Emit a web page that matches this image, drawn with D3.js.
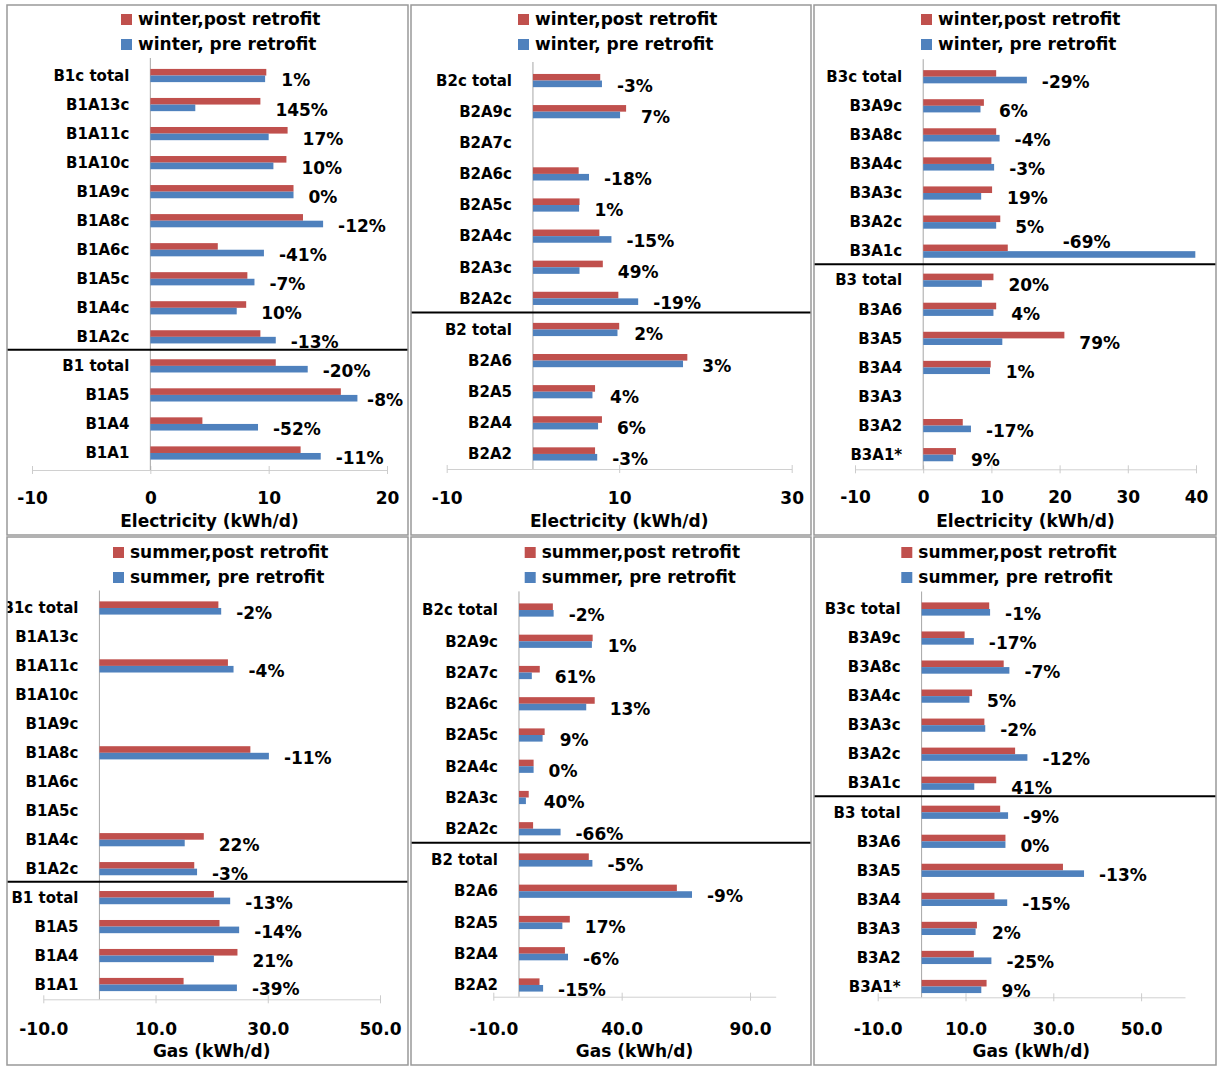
<!DOCTYPE html>
<html>
<head>
<meta charset="utf-8">
<script src="https://cdn.jsdelivr.net/npm/d3@7"></script>
<style>
  body { margin: 0; background: #fff; }
  text { font-family: "DejaVu Sans", sans-serif; font-weight: bold; fill: #000; }
</style>
</head>
<body>
<svg id="chart" width="1217" height="1066"></svg>
<script>
// categories per building
const b1Cats = ["B1c total", "B1A13c", "B1A11c", "B1A10c", "B1A9c", "B1A8c", "B1A6c", "B1A5c", "B1A4c", "B1A2c", "B1 total", "B1A5", "B1A4", "B1A1"];
const b2Cats = ["B2c total", "B2A9c", "B2A7c", "B2A6c", "B2A5c", "B2A4c", "B2A3c", "B2A2c", "B2 total", "B2A6", "B2A5", "B2A4", "B2A2"];
const b3Cats = ["B3c total", "B3A9c", "B3A8c", "B3A4c", "B3A3c", "B3A2c", "B3A1c", "B3 total", "B3A6", "B3A5", "B3A4", "B3A3", "B3A2", "B3A1*"];

// winter electricity (kWh/d)
const b1ElecPost = [9.8, 9.3, 11.6, 11.5, 12.1, 12.9, 5.7, 8.2, 8.1, 9.3, 10.6, 16.1, 4.4, 12.7];
const b1ElecPre  = [9.7, 3.8, 10.0, 10.4, 12.1, 14.6, 9.6, 8.8, 7.3, 10.6, 13.3, 17.5, 9.1, 14.4];
const b1ElecPct  = ["1%", "145%", "17%", "10%", "0%", "-12%", "-41%", "-7%", "10%", "-13%", "-20%", "-8%", "-52%", "-11%"];

const b2ElecPost = [7.8, 10.8, null, 5.3, 5.4, 7.7, 8.1, 9.9, 10.0, 17.9, 7.2, 8.0, 7.2];
const b2ElecPre  = [8.0, 10.1, null, 6.5, 5.35, 9.1, 5.4, 12.2, 9.8, 17.4, 6.9, 7.55, 7.45];
const b2ElecPct  = ["-3%", "7%", null, "-18%", "1%", "-15%", "49%", "-19%", "2%", "3%", "4%", "6%", "-3%"];

const b3ElecPost = [10.7, 8.9, 10.7, 10.0, 10.1, 11.3, 12.4, 10.3, 10.7, 20.7, 9.9, null, 5.8, 4.8];
const b3ElecPre  = [15.2, 8.4, 11.2, 10.4, 8.5, 10.7, 39.9, 8.6, 10.3, 11.6, 9.8, null, 7.0, 4.4];
const b3ElecPct  = ["-29%", "6%", "-4%", "-3%", "19%", "5%", "-69%", "20%", "4%", "79%", "1%", null, "-17%", "9%"];

// summer gas (kWh/d)
const b1GasPost = [21.2, null, 22.9, null, null, 26.9, null, null, 18.6, 16.9, 20.4, 21.4, 24.6, 15.0];
const b1GasPre  = [21.7, null, 23.9, null, null, 30.2, null, null, 15.2, 17.4, 23.3, 24.9, 20.4, 24.5];
const b1GasPct  = ["-2%", null, "-4%", null, null, "-11%", null, null, "22%", "-3%", "-13%", "-14%", "21%", "-39%"];

const b2GasPost = [13.2, 28.7, 8.1, 29.5, 10.0, 5.7, 3.8, 5.5, 27.2, 61.5, 19.8, 17.9, 8.0];
const b2GasPre  = [13.5, 28.4, 5.0, 26.2, 9.2, 5.7, 2.7, 16.2, 28.6, 67.4, 16.9, 19.1, 9.4];
const b2GasPct  = ["-2%", "1%", "61%", "13%", "9%", "0%", "40%", "-66%", "-5%", "-9%", "17%", "-6%", "-15%"];

const b3GasPost = [15.4, 9.8, 18.7, 11.5, 14.3, 21.3, 17.0, 17.9, 19.1, 32.2, 16.6, 12.6, 11.9, 14.8];
const b3GasPre  = [15.6, 11.9, 20.0, 10.9, 14.5, 24.1, 12.0, 19.7, 19.1, 37.0, 19.5, 12.3, 15.9, 13.6];
const b3GasPct  = ["-1%", "-17%", "-7%", "5%", "-2%", "-12%", "41%", "-9%", "0%", "-13%", "-15%", "2%", "-25%", "9%"];

// tick values
const b1ElecTicks = [-10, 0, 10, 20];
const b2ElecTicks = [-10, 10, 30];
const b3ElecTicks = [-10, 0, 10, 20, 30, 40];
const b1GasTicks = [-10, 10, 30, 50];
const b2GasTicks = [-10, 40, 90];
const b3GasTicks = [-10, 10, 30, 50];

const winterLegend = ["winter,post retrofit", "winter, pre retrofit"];
const summerLegend = ["summer,post retrofit", "summer, pre retrofit"];

const red = "#C0504D";
const blue = "#4F81BD";
const barH = 6.6;

const intFmt = d => d.toFixed(0);
const decFmt = d => d.toFixed(1);

const panels = [
    { cats: b1Cats, post: b1ElecPost, pre: b1ElecPre, pct: b1ElecPct, ticks: b1ElecTicks, legend: winterLegend,
      title: "Electricity (kWh/d)", domain: [-10, 20], fmt: intFmt, split: 10,
      box: [7, 5, 401, 530], xr: [32, 387], yr: [61, 467.5], axisY: 470, legX: 138, top: true },
    { cats: b2Cats, post: b2ElecPost, pre: b2ElecPre, pct: b2ElecPct, ticks: b2ElecTicks, legend: winterLegend,
      title: "Electricity (kWh/d)", domain: [-10, 30], fmt: intFmt, split: 8,
      box: [411, 5, 400, 530], xr: [446.7, 791.7], yr: [65, 469.5], axisY: 469, legX: 535, top: true },
    { cats: b3Cats, post: b3ElecPost, pre: b3ElecPre, pct: b3ElecPct, ticks: b3ElecTicks, legend: winterLegend,
      title: "Electricity (kWh/d)", domain: [-10, 40], fmt: intFmt, split: 7,
      box: [814, 5, 402, 530], xr: [855, 1196], yr: [62.2, 469.2], axisY: 469.3, legX: 938, top: true },
    { cats: b1Cats, post: b1GasPost, pre: b1GasPre, pct: b1GasPct, ticks: b1GasTicks, legend: summerLegend,
      title: "Gas (kWh/d)", domain: [-10, 50], fmt: decFmt, split: 10,
      box: [7, 537, 401, 528], xr: [43.3, 380], yr: [593.5, 999], axisY: 999.3, legX: 130, top: false },
    { cats: b2Cats, post: b2GasPost, pre: b2GasPre, pct: b2GasPct, ticks: b2GasTicks, legend: summerLegend,
      title: "Gas (kWh/d)", domain: [-10, 100], fmt: decFmt, split: 8,
      box: [411, 537, 400, 528], xr: [493.3, 775.7], yr: [594.4, 1000.6], axisY: 996.7, legX: 541.7, top: false },
    { cats: b3Cats, post: b3GasPost, pre: b3GasPre, pct: b3GasPct, ticks: b3GasTicks, legend: summerLegend,
      title: "Gas (kWh/d)", domain: [-10, 60], fmt: decFmt, split: 7,
      box: [814, 537, 402, 528], xr: [877.7, 1185], yr: [594.5, 1001], axisY: 997.3, legX: 918.3, top: false }
];

const svg = d3.select("#chart");

panels.forEach((p, i) => {
    const [bx, by, bw, bh] = p.box;
    const clipId = "clip" + i;
    svg.append("clipPath").attr("id", clipId)
        .append("rect").attr("x", bx).attr("y", by).attr("width", bw).attr("height", bh);
    const g = svg.append("g").attr("clip-path", `url(#${clipId})`);

    const x = d3.scaleLinear().domain(p.domain).range(p.xr);
    const y = d3.scaleBand().domain(p.cats).range(p.yr);
    const mid = c => y(c) + y.bandwidth() / 2;

    // legend rows
    const legBase = p.top ? [25, 50] : [558, 583];
    p.legend.forEach((txt, k) => {
        g.append("rect")
            .attr("x", p.legX - 17).attr("y", legBase[k] - 11)
            .attr("width", 11).attr("height", 11)
            .attr("fill", k === 0 ? red : blue);
        g.append("text")
            .attr("x", p.legX).attr("y", legBase[k])
            .style("font-size", "17px")
            .text(txt);
    });

    // value axis
    const tickBase = p.top ? 503.5 : 1035.5;
    const axis = d3.axisBottom(x).tickValues(p.ticks).tickFormat(p.fmt).tickSize(4).tickSizeOuter(0);
    const ag = g.append("g").attr("transform", `translate(0,${p.axisY})`).call(axis);
    ag.select(".domain").attr("stroke", "#d0d0d0");
    ag.selectAll(".tick line").attr("stroke", "#cccccc").attr("y1", -4).attr("y2", 4);
    ag.selectAll(".tick text")
        .attr("y", tickBase - p.axisY).attr("dy", null)
        .style("font-size", "17px");

    // axis title
    g.append("text")
        .attr("x", (p.xr[0] + p.xr[1]) / 2)
        .attr("y", p.top ? 526.5 : 1057)
        .attr("text-anchor", "middle")
        .style("font-size", "17px")
        .text(p.title);

    // zero line
    g.append("line")
        .attr("x1", x(0)).attr("x2", x(0))
        .attr("y1", p.yr[0] - 3).attr("y2", p.axisY)
        .attr("stroke", "#a6a6a6");

    // category labels
    g.selectAll(".cat")
        .data(p.cats)
        .join("text")
        .attr("class", "cat")
        .attr("x", x(0) - 21)
        .attr("y", d => mid(d))
        .attr("dy", "0.35em")
        .attr("text-anchor", "end")
        .style("font-size", "15px")
        .text(d => d);

    const rows = p.cats.map((c, j) => ({ cat: c, post: p.post[j], pre: p.pre[j], pct: p.pct[j] }));

    // post retrofit bars (upper)
    g.selectAll(".post")
        .data(rows.filter(d => d.post != null))
        .join("rect")
        .attr("class", "post")
        .attr("x", x(0))
        .attr("y", d => mid(d.cat) - barH)
        .attr("width", d => x(d.post) - x(0))
        .attr("height", barH)
        .attr("fill", red);

    // pre retrofit bars (lower)
    g.selectAll(".pre")
        .data(rows.filter(d => d.pre != null))
        .join("rect")
        .attr("class", "pre")
        .attr("x", x(0))
        .attr("y", d => mid(d.cat))
        .attr("width", d => x(d.pre) - x(0))
        .attr("height", barH)
        .attr("fill", blue);

    // change labels; pulled in when they would run past the frame,
    // or lifted above the bars when there is no room at all
    const right = bx + bw - 5;
    g.selectAll(".pct")
        .data(rows.filter(d => d.pct != null))
        .join("text")
        .attr("class", "pct")
        .attr("x", d => x(Math.max(d.post, d.pre)) + 15)
        .attr("y", d => mid(d.cat) + 5)
        .attr("dy", "0.35em")
        .style("font-size", "17px")
        .text(d => d.pct)
        .each(function (d) {
            const t = d3.select(this);
            const w = this.getComputedTextLength();
            const end = x(Math.max(d.post, d.pre));
            if (+t.attr("x") + w > right) {
                if (right - w >= end) {
                    t.attr("x", right - w);
                } else {
                    t.attr("x", x(Math.min(d.post, d.pre)) + 55)
                     .attr("y", mid(d.cat) - 9);
                }
            }
        });

    // divider between the two groups
    g.append("line")
        .attr("x1", bx).attr("x2", bx + bw)
        .attr("y1", y(p.cats[p.split]) - 1.5).attr("y2", y(p.cats[p.split]) - 1.5)
        .attr("stroke", "#000").attr("stroke-width", 2);

    // panel frame
    svg.append("rect")
        .attr("x", bx).attr("y", by).attr("width", bw).attr("height", bh)
        .attr("fill", "none").attr("stroke", "#999").attr("stroke-width", 1.5);
});
</script>
</body>
</html>
